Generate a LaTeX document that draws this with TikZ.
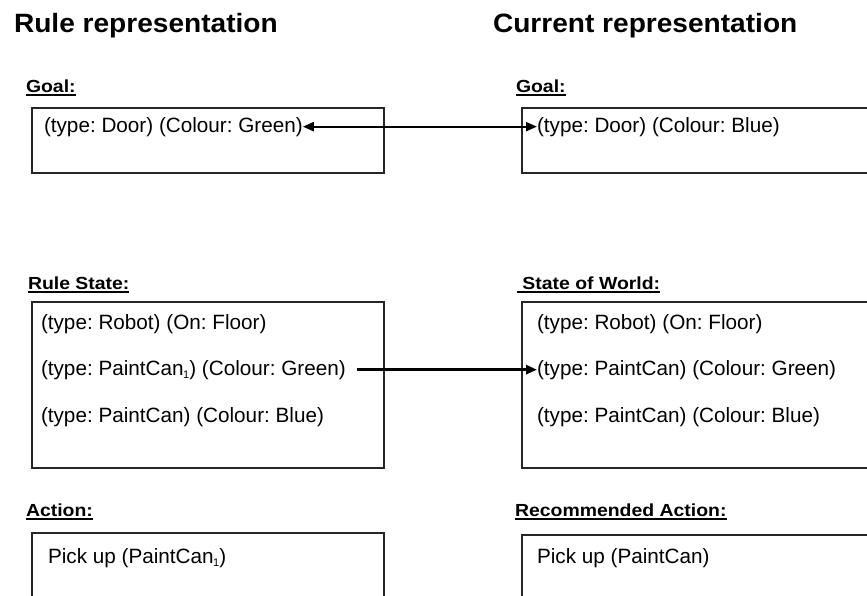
\documentclass[tikz,border=0pt]{standalone}
\usepackage{fontspec}
\setmainfont{Liberation Sans}
\usetikzlibrary{arrows.meta}

% heavy underline for the section captions
\newcommand\capline[1]{\setbox0\hbox{#1}\rlap{\vrule height -1.9pt depth 3.7pt width \wd0}\box0}
% small index set low after a name
\newcommand\idx[1]{\kern-0.5pt\raisebox{-3.5pt}{\fontsize{11}{11}\selectfont #1}}

\begin{document}
\frenchspacing
\begin{tikzpicture}[x=1pt,y=-1pt,
  every node/.style={inner sep=0pt, outer sep=0pt},
  heading/.style={anchor=base west, font=\frenchspacing\fontsize{26.5}{31}\selectfont\bfseries, xscale=1.06},
  caption/.style={anchor=base west, font=\frenchspacing\fontsize{17.5}{21}\selectfont\bfseries, xscale=1.11},
  entry/.style={anchor=base west, font=\frenchspacing\fontsize{20.7}{24}\selectfont},
  panel/.style={draw=black!85, line width=1.4pt, anchor=north west, minimum width=352pt},
  widepanel/.style={panel, minimum width=400pt},
  tip/.tip={Triangle[length=11pt,width=9pt]}
]
\path[use as bounding box, clip] (0,0) rectangle (867,595);

% column headings
\node[heading] (hl) at (14,32) {Rule representation};
\node[heading] (hr) at (493,32) {Current representation};

% section captions
\node[caption] (cgl) at (26,92) {\capline{Goal:}};
\node[caption] (cgr) at (516,92) {\capline{Goal:}};
\node[caption] (csl) at (28,289) {\capline{Rule State:}};
\node[caption] (csr) at (517,289) {\capline{\ State of World:}};
\node[caption] (cal) at (26,516) {\capline{Action:}};
\node[caption] (car) at (515,516) {\capline{Recommended Action:}};

% panels
\node[panel, minimum height=65pt] (bgl) at (32,108) {};
\node[widepanel, minimum height=65pt] (bgr) at (522,108) {};
\node[panel, minimum height=166pt] (bsl) at (32,302) {};
\node[widepanel, minimum height=166pt] (bsr) at (522,302) {};
\node[panel, minimum height=100pt] (bal) at (32,533) {};
\node[widepanel, minimum height=100pt] (bar) at (522,535) {};

% panel contents
\node[entry] (gl) at (44,132) {(type: Door) (Colour: Green)};
\node[entry] (gr) at (537,132) {(type: Door) (Colour: Blue)};
\node[entry] (sl1) at (41,329) {(type: Robot) (On: Floor)};
\node[entry] (sl2) at (41,375) {(type: PaintCan\idx{1}) (Colour: Green)};
\node[entry] (sl3) at (41,422) {(type: PaintCan) (Colour: Blue)};
\node[entry] (sr1) at (537,329) {(type: Robot) (On: Floor)};
\node[entry] (sr2) at (537,375) {(type: PaintCan) (Colour: Green)};
\node[entry] (sr3) at (537,422) {(type: PaintCan) (Colour: Blue)};
\node[entry] (al) at (48,563) {Pick up (PaintCan\idx{1})};
\node[entry] (ar) at (537,563) {Pick up (PaintCan)};

% correspondences
\draw[line width=2pt, {tip}-{tip}] (gl.east) -- (gr.west);
\coordinate (m) at ([xshift=11pt]sl2.east);
\draw[line width=3pt, -{tip}] (m) -- (m -| sr2.west);
\end{tikzpicture}
\end{document}
